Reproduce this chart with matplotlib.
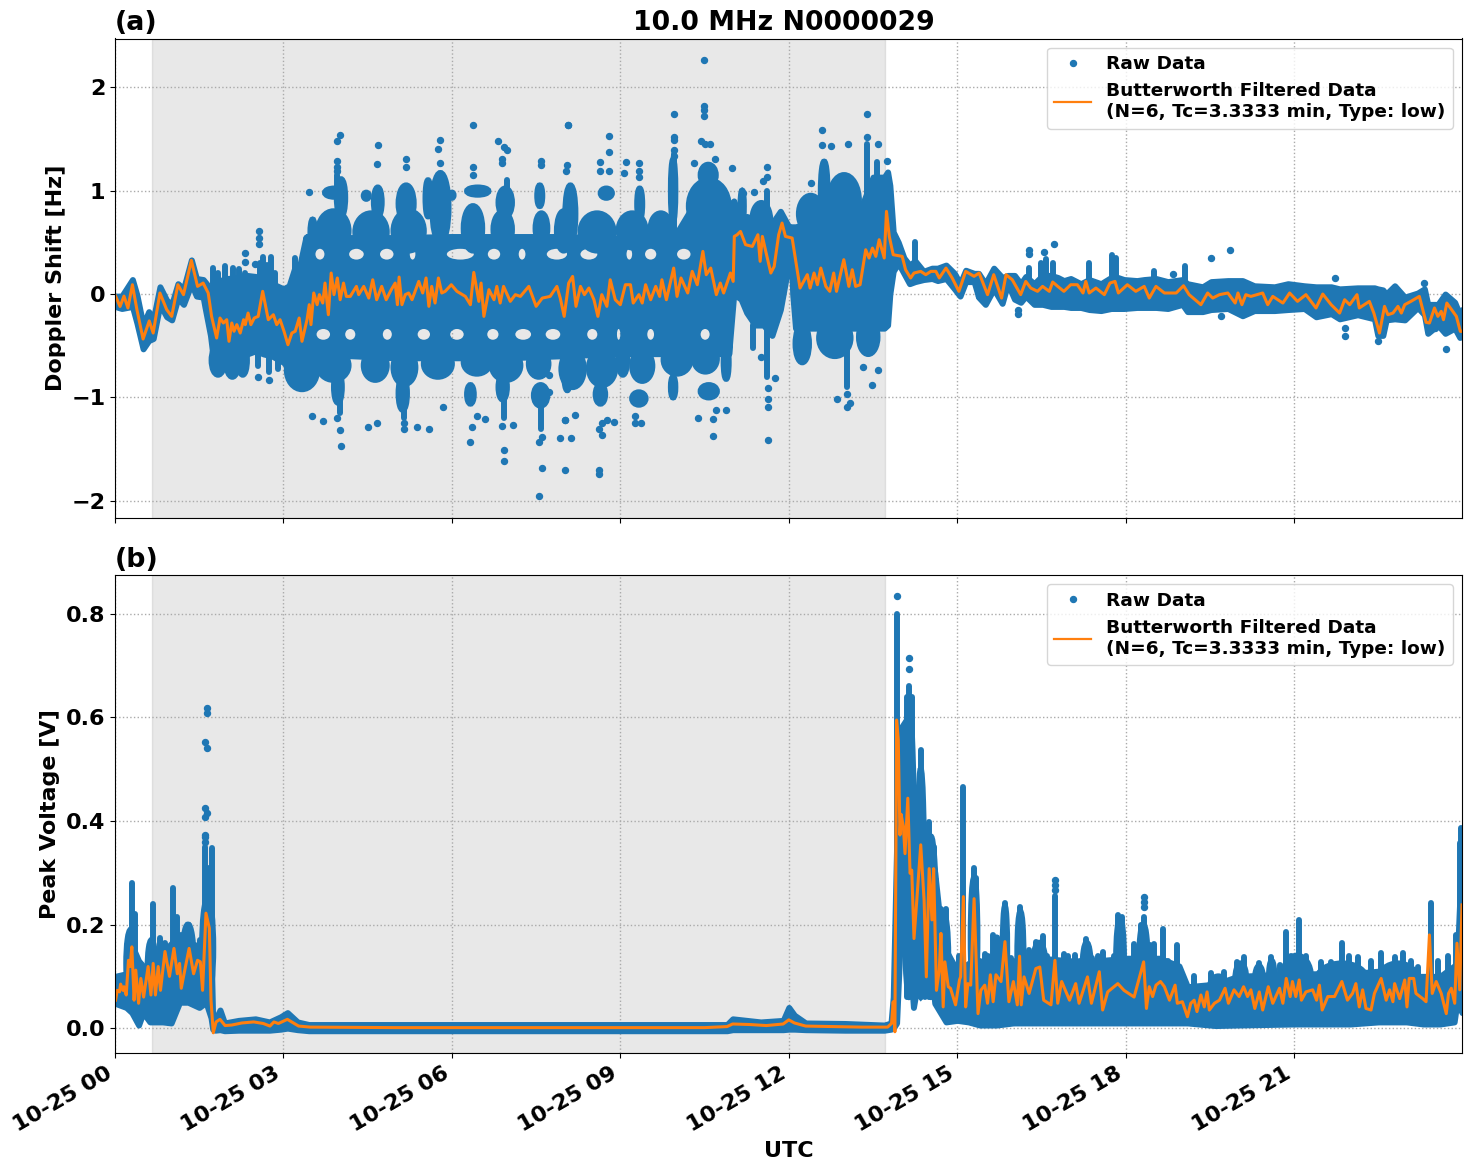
from datetime import datetime

import numpy as np
import matplotlib
matplotlib.use("Agg")
import matplotlib.pyplot as plt
import matplotlib.dates as mdates
from matplotlib.patches import Ellipse, PathPatch
from matplotlib.path import Path

# ---- Recording window and terminator shading (hours, UTC) ----
DAY_START = datetime(2023, 10, 25)
DARK_START = 0.66
DARK_END = 13.71
HOUR_END = 23.99

# ---- Butterworth filtered Doppler shift [Hz]: (hour, value) ----
filtered_doppler = [
    (.01,-.02),(.09,-.12),(.16,-.02),(.23,-.135),(.31,.09),(.39,-.15),(.50,-.435),(.61,-.26),(.68,-.377),(.80,.01),
    (.92,-.15),(1.01,-.216),(1.12,.09),(1.22,-.006),(1.36,.325),(1.47,.074),(1.57,.106),(1.66,.01),(1.72,-.216),(1.81,-.425),
    (1.87,-.232),(1.93,-.28),(1.99,-.248),(2.03,-.457),(2.08,-.28),(2.12,-.36),(2.17,-.296),(2.23,-.377),(2.29,-.248),(2.32,-.296),
    (2.37,-.184),(2.42,-.296),(2.48,-.232),(2.55,-.216),(2.63,.026),(2.73,-.248),(2.82,-.2),(2.88,-.296),(2.94,-.248),(3.01,-.36),
    (3.08,-.49),(3.15,-.377),(3.21,-.36),(3.28,-.232),(3.33,-.457),(3.42,-.248),(3.46,-.103),(3.49,-.296),(3.54,.01),(3.60,-.103),
    (3.64,-.006),(3.70,-.087),(3.74,.106),(3.80,-.2),(3.85,.203),(3.90,-.006),(3.96,.155),(4.01,-.055),(4.07,.106),(4.12,-.023),
    (4.19,-.023),(4.30,.074),(4.34,-.006),(4.43,.074),(4.52,-.039),(4.59,.138),(4.66,-.055),(4.75,.074),(4.83,-.055),(4.92,.042),
    (4.99,.106),(5.03,-.103),(5.06,.164),(5.11,-.103),(5.17,-.006),(5.23,.01),(5.29,-.055),(5.41,.122),(5.48,.01),(5.54,.155),
    (5.59,-.119),(5.64,.074),(5.70,-.087),(5.76,.155),(5.82,.01),(5.88,.026),(5.99,.09),(6.09,.026),(6.24,-.023),(6.33,-.103),
    (6.39,.209),(6.48,-.071),(6.52,.106),(6.57,-.216),(6.66,.042),(6.75,-.055),(6.80,.074),(6.86,-.087),(6.92,.074),(7.04,-.071),
    (7.13,-.006),(7.22,-.023),(7.37,.074),(7.50,-.119),(7.61,-.039),(7.75,-.023),(7.87,.074),(7.93,-.039),(8.00,-.216),(8.08,.106),
    (8.15,.17),(8.21,-.119),(8.29,.074),(8.36,-.006),(8.44,.058),(8.53,-.055),(8.60,-.216),(8.67,-.006),(8.76,-.119),(8.82,.138),
    (8.91,-.055),(9.00,-.103),(9.09,.09),(9.18,.09),(9.23,-.087),(9.33,-.006),(9.39,-.087),(9.45,.09),(9.54,-.055),(9.63,.074),
    (9.70,-.023),(9.74,.138),(9.82,-.055),(9.95,.251),(10.01,-.023),(10.08,.155),(10.20,.01),(10.28,.219),(10.37,.09),(10.47,.412),
    (10.53,.187),(10.61,.251),(10.71,-.006),(10.78,.106),(10.84,.01),(10.96,.203),(11.01,.122),(11.03,.557),(11.08,.573),(11.14,.605),
    (11.23,.477),(11.35,.46),(11.45,.573),(11.49,.316),(11.53,.557),(11.59,.412),(11.68,.203),(11.74,.267),(11.82,.573),(11.88,.686),
    (11.94,.557),(12.06,.541),(12.20,.058),(12.33,.187),(12.38,.058),(12.45,.203),(12.51,.09),(12.57,.251),(12.66,.074),(12.73,.026),
    (12.80,.203),(12.85,.026),(12.98,.332),(13.07,.074),(13.13,.235),(13.19,.074),(13.27,.09),(13.37,.428),(13.43,.348),(13.49,.444),
    (13.55,.364),(13.61,.525),(13.70,.348),(13.74,.799),(13.79,.557),(13.86,.38),(14.02,.364),(14.08,.235),(14.17,.155),(14.23,.203),
    (14.35,.219),(14.44,.187),(14.53,.219),(14.62,.219),(14.68,.155),(14.80,.251),(14.91,.155),(15.03,.026),(15.15,.219),(15.30,.171),
    (15.39,.203),(15.54,-.006),(15.65,.187),(15.79,-.039),(15.87,.187),(15.98,.138),(16.13,-.006),(16.22,.122),(16.31,.058),(16.43,.026),
    (16.52,.074),(16.64,.026),(16.70,.116),(16.79,.074),(16.90,.026),(17.02,.09),(17.14,.09),(17.24,.01),(17.29,.122),(17.35,.01),
    (17.47,.058),(17.62,-.006),(17.72,.106),(17.81,.122),(17.87,.01),(18.03,.09),(18.18,.026),(18.33,.074),(18.42,-.039),(18.54,.074),
    (18.69,.01),(18.90,.01),(19.03,.08),(19.13,-.006),(19.34,-.103),(19.46,.01),(19.55,-.039),(19.67,-.006),(19.82,.01),(19.95,-.087),
    (20.00,.01),(20.07,-.103),(20.14,-.006),(20.23,-.023),(20.44,.01),(20.53,-.103),(20.62,-.023),(20.80,-.087),(20.92,.01),(21.06,-.071),
    (21.21,-.006),(21.39,-.135),(21.51,0),(21.66,-.103),(21.81,-.184),(21.90,-.055),(21.99,-.103),(22.12,-.006),(22.16,-.135),(22.34,-.071),
    (22.42,-.184),(22.52,-.377),(22.61,-.119),(22.67,-.2),(22.76,-.184),(22.85,-.119),(22.91,-.184),(22.97,-.103),(23.08,-.071),(23.23,-.023),
    (23.35,-.274),(23.41,-.28),(23.50,-.135),(23.56,-.216),(23.62,-.167),(23.66,-.248),(23.72,-.087),(23.89,-.216),(23.96,-.361),(23.99,-.361),
]

# ---- Raw Doppler spread: (hour, upper, lower) outside the dense night band ----
spread_doppler_early = [
    (0,-.02,-.12),(.12,-.02,-.14),(.31,.14,-.12),(.39,-.01,-.28),(.50,-.3,-.53),(.60,-.17,-.45),(.68,-.25,-.43),(.80,.07,-.1),
    (.92,-.06,-.22),(1.01,-.1,-.25),(1.12,.1,-.04),(1.22,.05,-.1),(1.36,.33,.1),(1.45,.15,-.02),(1.57,.14,-.03),(1.60,.12,-.12),
    (1.70,.05,-.4),(1.75,.08,-.62),(1.80,.12,-.62),(2.0,.15,-.62),(2.2,.16,-.62),(2.35,.18,-.58),(2.5,.17,-.55),(2.65,.15,-.58),
    (2.8,.1,-.6),(3.0,.05,-.66),(3.1,.08,-.72),(3.2,.25,-.75),(3.3,.3,-.75),(3.4,.55,-.75),
]
spread_doppler_late = [
    (10.93,.85,-.58),(11.02,.9,.0),(11.15,.72,-.05),(11.25,.75,-.18),(11.4,.72,-.3),(11.55,.7,-.3),(11.7,.68,-.4),(11.85,.8,-.15),
    (12.0,.65,.3),(12.04,.65,.4),(12.07,.65,.0),(12.12,.65,-.33),(12.5,.7,-.33),(12.8,.75,-.33),(13.0,.75,-.33),(13.2,.75,-.33),
    (13.3,.85,-.33),(13.5,1.13,-.33),(13.7,1.13,-.33),(13.76,1.18,-.3),(13.8,1.05,.0),(13.86,.6,.22),(13.95,.5,.3),(14.05,.35,.2),
    (14.15,.28,.1),(14.25,.32,.12),(14.4,.22,.14),(14.55,.25,.15),(14.65,.25,.13),(14.8,.28,.15),(14.95,.2,.05),(15.05,.1,-.02),
    (15.15,.23,.12),(15.3,.2,.12),(15.38,.2,-.03),(15.5,.1,-.1),(15.65,.25,.05),(15.8,.16,-.09),(15.9,.18,.1),(16.02,.18,-.05),
    (16.13,.1,-.08),(16.22,.17,-.02),(16.37,.1,-.1),(16.52,.18,-.1),(16.67,.18,-.12),(16.79,.16,-.12),(16.9,.13,-.12),(17.02,.15,-.13),
    (17.2,.1,-.13),(17.35,.14,-.15),(17.56,.1,-.16),(17.74,.16,-.14),(17.86,.16,-.14),(17.97,.14,-.14),(18.2,.13,-.13),(18.33,.14,-.13),
    (18.54,.15,-.13),(18.75,.12,-.14),(19.01,.14,-.1),(19.1,.1,-.17),(19.37,.07,-.17),(19.52,.12,-.15),(19.82,.13,-.14),(20.08,.13,-.21),
    (20.29,.08,-.16),(20.65,.07,-.16),(20.89,.1,-.15),(21.18,.08,-.14),(21.39,.07,-.22),(21.66,.07,-.19),(21.81,.05,-.24),(22.13,.06,-.2),
    (22.43,.06,-.24),(22.49,.05,-.4),(22.58,.04,-.4),(22.64,.0,-.25),(22.79,.08,-.24),(22.97,-.03,-.25),(23.2,.01,-.13),(23.32,.05,-.2),
    (23.38,-.1,-.38),(23.47,-.1,-.34),(23.56,-.1,-.3),(23.69,.0,-.38),(23.86,-.08,-.33),(23.95,-.2,-.42),(23.99,-.15,-.4),
]
# Dense night band and the sparse gaps inside it: (hour, upper, lower), (centre hour, half width, level)
dense_doppler = [
    (3.4,.58,-.75),(3.8,.58,-.7),(4.2,.57,-.63),(5,.57,-.65),(6,.58,-.65),(7,.58,-.65),(8,.58,-.63),(9,.56,-.61),
    (10,.63,-.61),(10.2,.81,-.61),(10.5,.83,-.61),(10.8,.75,-.61),(10.93,.73,-.61),
]
gaps_doppler = [
    (3.65,.08,.385),(4.30,.13,.385),(4.84,.12,.385),(5.30,.05,.385),(6.15,.24,.385),(6.75,.11,.385),(7.25,.06,.385),(7.87,.18,.385),
    (8.44,.15,.385),(9.16,.05,.385),(9.54,.10,.385),(10.13,.12,.385),
    (3.71,.12,-.39),(4.19,.09,-.39),(4.85,.08,-.39),(5.50,.11,-.39),(6.09,.12,-.39),(6.73,.10,-.39),(7.27,.14,-.39),(7.80,.13,-.39),
    (8.50,.09,-.39),(8.97,.03,-.39),(9.54,.06,-.39),(10.51,.08,-.39),
]
# Clouds of raw samples around the dense band: (first hour, last hour, lower, upper)
clouds_doppler = [
    (3.48,3.56,.45,.72),(3.62,4.16,.42,.8),(3.74,4.07,.94,1.02),(3.95,4.10,.75,1.11),(4.28,4.84,.42,.78),(4.43,4.52,.92,.98),(4.61,4.75,.75,1.03),(4.96,5.5,.42,.8),
    (5.05,5.32,.7,1.05),(5.53,5.62,.75,1.1),(5.65,5.94,.5,1.17),(5.97,6.03,.93,.98),(6.21,6.54,.42,.85),(6.27,6.65,.96,1.03),(6.74,7.07,.46,.79),(6.83,7.07,.75,1.02),
    (7.49,7.7,.49,.78),(7.52,7.61,.85,1.05),(7.87,8.11,.42,.8),(8.02,8.2,.5,1.05),(8.29,8.88,.42,.78),(8.65,8.85,.93,1.02),(8.97,9.45,.45,.78),(9.3,9.39,.72,1.02),
    (9.54,9.9,.49,.78),(9.9,9.98,.7,1.3),(10.22,10.93,.6,1.1),(10.43,10.7,1.05,1.25),
    (3.06,3.6,-.55,-.92),(3.62,4.16,-.55,-.83),(3.9,4.04,-.75,-1.05),(4.43,4.84,-.55,-.83),(4.96,5.35,-.55,-.87),(5.05,5.2,-.8,-1.12),(5.5,6.0,-.55,-.8),(6.21,6.68,-.55,-.77),
    (6.27,6.39,-.88,-1.06),(6.71,7.22,-.55,-.83),(6.83,6.98,-.78,-1.02),(7.37,7.72,-.55,-.8),(7.46,7.7,-.88,-1.08),(8.0,8.11,-.6,-.93),(7.95,8.35,-.55,-.9),(8.44,8.91,-.55,-.88),
    (8.56,8.73,-.88,-1.06),(8.97,9.12,-.5,-.78),(9.21,9.57,-.55,-.84),(9.21,9.45,-.95,-1.07),(9.77,10.25,-.5,-.77),(9.9,9.98,-.8,-1.0),(10.31,10.72,-.5,-.75),(10.43,10.72,-.88,-1.0),
    (10.84,10.93,-.5,-.82),(1.72,1.95,-.5,-.78),(1.98,2.2,-.5,-.8),(2.2,2.35,-.5,-.78),
    (12.12,12.36,-.3,-.66),(12.54,13.1,-.25,-.6),(13.25,13.58,-.25,-.58),(12.18,12.6,.6,.95),(12.57,12.69,.7,1.28),(12.72,13.25,.65,1.15),(11.14,11.2,.7,1.0),(11.35,11.67,.55,.88),
]
# Vertical chains of raw samples: (hour, from, to)
chains_doppler = [
    (1.75,.1,.25),(1.84,.1,.2),(1.96,.1,.27),(2.1,.1,.25),(2.2,.1,.24),(2.31,.1,.2),(2.58,.1,.3),(2.64,.1,.36),(2.7,.1,.28),(2.77,.1,.36),(2.85,.1,.2),(3.2,.2,.35),
    (2.54,-.5,-.7),(2.75,-.5,-.75),(2.9,-.6,-.72),(3.96,1.0,1.15),(4.0,-.8,-1.15),(5.15,-1.0,-1.2),(6.92,-.85,-1.2),(7.58,-.9,-1.3),(6.98,.9,1.1),
    (9.96,.6,1.35),(13.4,.9,1.45),(13.57,1.0,1.28),(11.62,.8,1.0),(14.25,.3,.5),(11.36,-.3,-.52),(11.62,-.3,-.8),(13.04,-.5,-.9),
    (16.28,.1,.25),(16.5,.1,.3),(16.58,.1,.34),(16.7,.1,.3),(17.35,.1,.3),(17.75,.1,.38),(17.83,.1,.35),(18.5,.1,.22),(19.05,.1,.27),
]
# Isolated raw samples
lone_doppler = [
    (6.37,1.63),(8.06,1.63),(4.0,1.54),(3.96,1.48),(4.68,1.44),(5.78,1.49),(5.75,1.40),(3.96,1.29),(3.96,1.23),(3.96,1.19),(4.66,1.26),(5.18,1.31),(5.18,1.23),
    (5.79,1.27),(6.83,1.48),(6.92,1.42),(6.98,1.39),(6.9,1.31),(6.9,1.27),(6.37,1.23),(6.37,1.15),(7.58,1.29),(7.58,1.25),(8.05,1.25),(8.04,1.19),(3.46,.985),
    (2.31,.4),(2.31,.31),(2.57,.61),(2.57,.54),(2.57,.48),(2.5,.29),
    (2.54,-.8),(2.75,-.83),(4.02,-1.47),(4.01,-1.31),(3.95,-1.2),(3.5,-1.18),(3.71,-1.23),(4.5,-1.29),(4.66,-1.25),(5.15,-1.25),(5.15,-1.3),(5.38,-1.29),(5.59,-1.3),
    (5.85,-1.09),(6.33,-1.43),(6.36,-1.29),(6.45,-1.18),(6.59,-1.21),(6.89,-1.28),(7.08,-1.27),(6.92,-1.51),(6.92,-1.61),(7.61,-1.68),(7.56,-1.95),(8.01,-1.7),
    (7.55,-1.43),(7.61,-1.38),(8.02,-1.22),(7.93,-1.39),(7.73,-.95),(7.73,-.78),(8.62,-1.7),(8.62,-1.74),(8.67,-1.36),(8.12,-1.39),(8.01,-1.22),(8.2,-1.17),
    (8.76,-1.22),(8.88,-1.24),(8.67,-1.25),(8.62,-1.3),(9.27,-1.18),(9.27,-1.25),(9.36,-1.25),(10.38,-1.2),(10.65,-1.21),(10.65,-1.37),(10.7,-1.12),(10.89,-1.12),
    (11.63,-1.41),(11.63,-1.09),(11.63,-1.01),(11.63,-.91),(11.75,-.81),(12.86,-1.01),(13.03,-1.09),(13.09,-1.05),(13.03,-.97),(13.48,-.88),(13.59,-.73),(13.32,-.71),
    (11.5,-.61),(10.49,2.26),(10.49,1.82),(10.49,1.78),(10.49,1.72),(9.95,1.74),(9.95,1.52),(9.95,1.49),(9.95,1.39),(9.95,1.33),(13.4,1.74),(13.4,1.52),(12.59,1.59),
    (12.59,1.44),(12.75,1.43),(13.05,1.45),(13.59,1.45),(8.79,1.53),(8.79,1.37),(8.63,1.28),(8.79,1.19),(8.63,1.19),(8.06,1.63),(9.1,1.28),(9.06,1.17),(9.33,1.27),
    (9.33,1.19),(9.33,1.13),(10.43,1.48),(10.5,1.45),(10.59,1.45),(10.68,1.31),(10.31,1.27),(10.99,1.22),(11.61,1.23),(11.61,1.13),(11.54,1.09),(13.75,1.29),(12.39,1.07),
    (11.38,.985),(11.18,.98),(16.08,-.15),(16.08,-.19),(15.38,-.02),(16.73,.48),(16.28,.43),(16.28,.39),(16.55,.41),(19.52,.35),(19.86,.43),(19.69,-.21),
    (21.91,-.33),(21.91,-.41),(23.7,-.53),(22.49,-.45),(23.32,.11),(21.72,.155),(18.85,.19),(23.51,-.33),
]

# ---- Butterworth filtered peak voltage [V]: (hour, value) ----
filtered_voltage = [
    (.01,.054),(.04,.073),(.08,.070),(.10,.085),(.14,.073),(.16,.080),(.20,.064),(.24,.131),(.27,.119),(.30,.157),(.34,.054),(.37,.112),(.42,.048),(.46,.096),
    (.51,.060),(.59,.119),(.64,.064),(.68,.125),(.72,.064),(.77,.119),(.81,.073),(.89,.148),(.97,.100),(1.05,.154),(1.11,.105),(1.15,.125),(1.18,.077),(1.23,.105),
    (1.32,.154),(1.40,.105),(1.47,.131),(1.52,.128),(1.56,.073),(1.62,.222),(1.68,.193),(1.71,.054),(1.75,-.009),(1.80,.012),(1.87,.017),(1.96,.005),(2.08,.006),
    (2.26,.010),(2.47,.012),(2.64,.009),(2.76,.004),(2.83,.012),(2.91,.009),(3.07,.017),(3.27,.004),(3.48,.002),(5.0,.001),(7.0,.001),(9.0,.001),(10.5,.001),(10.9,.003),
    (11.0,.008),(11.3,.007),(11.6,.005),(11.9,.008),(12.0,.016),(12.1,.010),(12.3,.004),(12.8,.003),(13.3,.002),(13.76,.002),(13.83,.009),(13.86,.051),(13.89,-.007),
    (13.92,.595),(13.95,.557),(13.98,.373),(14.00,.413),(14.04,.390),(14.07,.337),(14.12,.444),(14.16,.299),(14.19,.305),(14.23,.173),(14.28,.247),(14.35,.354),(14.41,.247),
    (14.45,.099),(14.50,.308),(14.55,.209),(14.58,.308),(14.63,.073),(14.68,.112),(14.71,.183),(14.75,.041),(14.78,.128),(14.84,.080),(14.88,.077),(14.97,.045),(15.04,.093),
    (15.06,.099),(15.11,.254),(15.15,.041),(15.19,.086),(15.24,.083),(15.30,.250),(15.37,.028),(15.42,.073),(15.49,.083),(15.54,.048),(15.59,.103),(15.64,.051),(15.69,.103),
    (15.78,.090),(15.85,.167),(15.92,.051),(16.00,.090),(16.07,.045),(16.11,.139),(16.14,.045),(16.19,.099),(16.28,.067),(16.40,.115),(16.47,.118),(16.54,.054),(16.67,.045),
    (16.74,.131),(16.79,.048),(16.86,.090),(17.00,.054),(17.11,.086),(17.17,.048),(17.32,.099),(17.39,.048),(17.53,.109),(17.59,.035),(17.68,.070),(17.86,.086),(17.97,.073),
    (18.15,.060),(18.32,.128),(18.37,.038),(18.42,.080),(18.48,.061),(18.54,.083),(18.62,.090),(18.69,.080),(18.78,.054),(18.88,.083),(18.92,.048),(19.01,.051),(19.10,.022),
    (19.16,.048),(19.22,.054),(19.27,.032),(19.34,.064),(19.40,.041),(19.45,.070),(19.49,.035),(19.58,.048),(19.67,.054),(19.77,.077),(19.83,.048),(19.93,.074),(20.02,.061),
    (20.10,.080),(20.17,.061),(20.23,.074),(20.30,.038),(20.38,.070),(20.44,.035),(20.54,.080),(20.62,.048),(20.74,.077),(20.80,.048),(20.86,.096),(20.93,.061),(20.97,.090),
    (21.03,.061),(21.09,.093),(21.13,.054),(21.21,.070),(21.33,.074),(21.40,.054),(21.45,.083),(21.50,.035),(21.60,.061),(21.72,.061),(21.85,.090),(21.95,.054),(22.04,.067),
    (22.10,.086),(22.16,.041),(22.22,.074),(22.28,.038),(22.37,.035),(22.43,.067),(22.55,.096),(22.64,.054),(22.70,.074),(22.76,.051),(22.79,.086),(22.88,.057),(22.97,.093),
    (23.01,.041),(23.05,.096),(23.13,.096),(23.17,.067),(23.29,.057),(23.35,.051),(23.41,.180),(23.46,.067),(23.53,.090),(23.62,.067),(23.71,.028),(23.75,.067),(23.80,.077),
    (23.86,.048),(23.90,.164),(23.95,.074),(23.99,.238),
]

# ---- Raw voltage spread: (hour, upper, lower) ----
spread_voltage = [
    (0,.1,.048),(.2,.105,.04),(.3,.16,.03),(.42,.13,.006),(.5,.12,.03),(.62,.12,.012),(.85,.15,.012),(1.0,.15,.01),(1.15,.15,.05),(1.3,.17,.05),(1.5,.15,.04),(1.62,.16,.05),
    (1.71,.16,.02),(1.74,.015,-.002),(1.78,.015,-.004),(1.87,.035,-.003),(1.95,.01,-.005),(2.2,.015,-.004),(2.5,.018,-.004),(2.75,.012,-.004),(2.95,.022,-.002),(3.07,.03,0),
    (3.25,.012,-.003),(3.45,.007,-.005),(10.9,.007,-.005),(11.0,.018,-.003),(11.5,.012,-.003),(11.9,.015,-.003),(12.0,.04,-.002),(12.1,.025,-.002),(12.3,.01,-.003),(13.0,.009,-.004),
    (13.7,.006,-.004),(13.82,.01,-.002),(13.86,.06,0),(13.92,.35,.01),(14.0,.58,.21),(14.12,.6,.21),(14.18,.45,.1),(14.22,.3,.04),(14.3,.35,.09),(14.45,.35,.08),(14.55,.33,.1),
    (14.6,.3,.048),(14.7,.2,.03),(14.8,.15,.012),(15.0,.11,.015),(15.2,.125,.012),(15.4,.125,.006),(15.7,.135,.006),(16,.13,.01),(16.5,.135,.01),(17,.13,.01),(17.5,.13,.01),(18,.135,.01),
    (18.6,.135,.01),(18.95,.12,.01),(19.1,.08,.01),(19.6,.085,.005),(20,.1,.006),(21,.105,.008),(21.5,.105,.008),(22,.105,.008),(22.5,.11,.012),(23,.1,.012),(23.3,.1,.008),(23.6,.1,.008),
    (23.85,.12,.012),(23.9,.12,.05),(23.99,.35,.03),
]
# Clouds of raw samples rising out of the spread: (first hour, last hour, top)
clouds_voltage = [
    (.2,.36,.19),(.58,.72,.17),(.85,1.5,.17),(1.2,1.4,.2),(1.55,1.75,.25),(14.05,14.23,.62),(14.29,14.41,.50),(14.44,14.62,.37),(14.68,14.84,.22),(15.24,15.36,.29),
    (15.66,15.75,.175),(15.81,15.89,.235),(16.07,16.18,.225),(16.34,16.58,.165),(17.23,17.38,.165),(17.83,17.97,.21),(18.24,18.39,.2),
    (19.5,19.8,.1),(19.95,20.15,.125),(20.3,20.45,.12),(20.55,20.65,.13),(20.8,21.3,.14),(21.4,22.3,.125),(22.5,23.2,.125),
]
# Tops of the vertical raw-sample chains: (hour, top)
chains_voltage = [
    (.21,.16),(.3,.28),(.36,.22),(.68,.24),(.8,.175),(.89,.165),(1.03,.27),(1.1,.215),(1.17,.18),(1.32,.2),(1.42,.16),(1.52,.17),(1.6,.35),(1.65,.31),(1.72,.347),
    (13.93,.8),(14.1,.64),(14.14,.66),(14.19,.64),(14.35,.537),(14.42,.376),(14.5,.399),(14.58,.35),(14.63,.286),(14.71,.231),(14.8,.231),(14.88,.131),(15.04,.14),(15.11,.465),
    (15.29,.31),(15.33,.29),(15.4,.13),(15.49,.144),(15.55,.14),(15.63,.18),(15.75,.14),(15.85,.241),(15.95,.135),(16.04,.125),(16.12,.234),(16.2,.135),(16.28,.15),(16.4,.167),
    (16.53,.177),(16.6,.14),(16.68,.13),(16.74,.255),(16.82,.13),(16.9,.144),(16.98,.14),(17.1,.141),(17.2,.13),(17.3,.173),(17.4,.135),(17.5,.14),(17.6,.147),(17.7,.13),(17.8,.14),
    (17.87,.218),(17.93,.215),(18.05,.125),(18.15,.163),(18.28,.2),(18.33,.215),(18.43,.16),(18.5,.163),(18.66,.192),(18.75,.13),(18.91,.16),(19.22,.1),(19.52,.106),(19.76,.109),
    (19.99,.128),(20.11,.138),(20.38,.125),(20.58,.138),(20.74,.122),(20.86,.186),(20.94,.14),(21.09,.209),(21.21,.14),(21.47,.128),(21.66,.128),(21.86,.164),(21.98,.14),(22.13,.138),
    (22.37,.13),(22.55,.145),(22.79,.138),(22.94,.145),(23.08,.13),(23.2,.118),(23.43,.241),(23.56,.13),(23.74,.14),(23.89,.18),(23.95,.357),(23.98,.386),
]
lone_voltage = [
    (1.63,.618),(1.63,.608),(1.61,.552),(1.63,.54),(1.61,.426),(1.63,.415),(1.61,.407),(1.61,.373),(1.61,.37),(1.61,.359),(13.93,.834),(14.14,.714),(14.14,.693),
    (16.74,.286),(16.74,.276),(16.74,.267),(18.33,.254),(18.33,.244),(18.33,.234),
]

TICK_LABEL_SIZE = 16
DOT_PT = 4.3
CHAIN_BASE_V = 0.06
BLUE, ORANGE = "#1f77b4", "#ff7f0e"


def when(hours):
    """Turn hours after midnight into matplotlib date numbers."""
    return mdates.date2num(DAY_START) + np.asarray(hours, dtype=float) / 24.0


def draw_spread(ax, table):
    hours, upper, lower = np.array(table).T
    ax.fill_between(when(hours), lower, upper, color=BLUE, lw=DOT_PT, zorder=2, joinstyle="round")


def draw_cloud(ax, first, last, low, high):
    """A rounded cloud of overlapping samples spanning the given hours and values."""
    ax.add_patch(Ellipse((when((first + last) / 2), (low + high) / 2), (last - first) / 24.0, abs(high - low),
                         facecolor=BLUE, edgecolor=BLUE, lw=DOT_PT, zorder=2))


def dense_patch(table, gaps):
    """Closed night band with elliptical sparse gaps cut out of it."""
    hours, upper, lower = np.array(table).T
    x = np.r_[when(hours), when(hours)[::-1]]
    y = np.r_[upper, lower[::-1]]
    verts = list(zip(x, y)) + [(x[0], y[0])]
    codes = [Path.MOVETO] + [Path.LINETO] * (len(x) - 1) + [Path.CLOSEPOLY]
    circle = Path.unit_circle()
    for centre, half_width, level in gaps:
        ring = circle.vertices * [half_width / 24.0, 0.052] + [when(centre), level]
        verts += [tuple(v) for v in ring]
        codes += list(circle.codes)
    return PathPatch(Path(verts, codes), facecolor=BLUE, edgecolor="none", zorder=2)


plt.rcParams["font.family"] = "DejaVu Sans"
plt.rcParams["font.weight"] = "bold"
plt.rcParams["axes.labelweight"] = "bold"
plt.rcParams["axes.titleweight"] = "bold"

W, H = 1472, 1172
fig = plt.figure(figsize=(W / 100, H / 100), dpi=100)
ax_a = fig.add_axes([115 / W, 1 - 518 / H, 1347 / W, 479.5 / H])
ax_b = fig.add_axes([115 / W, 1 - 1053 / H, 1347 / W, 478 / H], sharex=ax_a)

# Panel (a): Doppler shift
draw_spread(ax_a, spread_doppler_early)
draw_spread(ax_a, spread_doppler_late)
ax_a.add_patch(dense_patch(dense_doppler, gaps_doppler))
for cloud in clouds_doppler:
    draw_cloud(ax_a, *cloud)
hr, v0, v1 = np.array(chains_doppler).T
ax_a.vlines(when(hr), v0, v1, color=BLUE, lw=DOT_PT, capstyle="round", zorder=2)

# Panel (b): peak voltage
draw_spread(ax_b, spread_voltage)
for first, last, top in clouds_voltage:
    draw_cloud(ax_b, first, last, CHAIN_BASE_V, top)
hr, tops = np.array(chains_voltage).T
ax_b.vlines(when(hr), np.minimum(CHAIN_BASE_V, tops), tops, color=BLUE, lw=DOT_PT, capstyle="round", zorder=2)

panels = [
    (ax_a, lone_doppler, filtered_doppler, "Doppler Shift [Hz]", (-2.165, 2.47), "(a)", [-2, -1, 0, 1, 2]),
    (ax_b, lone_voltage, filtered_voltage, "Peak Voltage [V]", (-0.048, 0.875), "(b)", [0, .2, .4, .6, .8]),
]
for ax, lone, filtered, ylabel, ylim, tag, yticks in panels:
    hr, val = np.array(lone).T
    ax.plot(when(hr), val, ".", color=BLUE, ms=8.6, label="Raw Data", zorder=2)
    hr, val = np.array(filtered).T
    ax.plot(when(hr), val, color=ORANGE, lw=2.2, zorder=2.2,
            label="Butterworth Filtered Data\n(N=6, Tc=3.3333 min, Type: low)")
    ax.axvspan(when(DARK_START), when(DARK_END), color="grey", alpha=0.18, zorder=1)
    ax.grid(True, ls=":", color="#aaaaaa", lw=1)
    ax.set_ylim(*ylim)
    ax.set_yticks(yticks)
    ax.set_ylabel(ylabel, fontsize=TICK_LABEL_SIZE)
    ax.set_title(tag, loc="left", fontsize=19.3, pad=6)
    ax.tick_params(labelsize=TICK_LABEL_SIZE)
    legend = ax.legend(loc="upper right", prop={"weight": "bold", "size": 13.3})
    legend.get_lines()[1].set_linewidth(1.6)

ax_a.set_title("10.0 MHz N0000029", fontsize=19.3, pad=6, x=0.4965)
ax_a.set_xlim(when(0), when(HOUR_END))
ax_a.xaxis.set_major_locator(mdates.HourLocator(byhour=range(0, 24, 3)))
ax_a.xaxis.set_major_formatter(mdates.DateFormatter("%m-%d %H"))
ax_a.tick_params(labelbottom=False)
ax_b.set_xlabel("UTC", fontsize=TICK_LABEL_SIZE)
for label in ax_b.get_xticklabels():
    label.set_rotation(30)
    label.set_ha("right")

fig.savefig("out.png", dpi=100)
